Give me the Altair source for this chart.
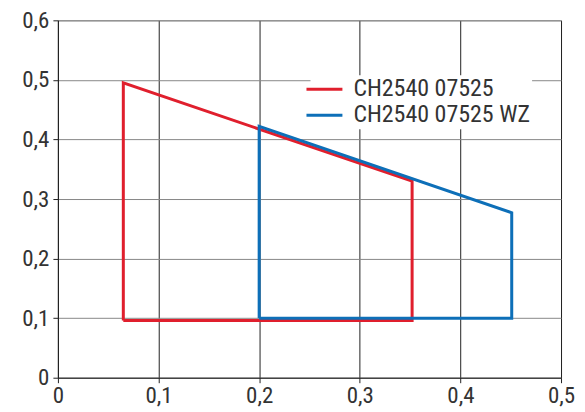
import altair as alt
import pandas as pd

series_names = ["CH2540 07525", "CH2540 07525 WZ"]
red_x = [0.065, 0.065, 0.352, 0.352, 0.065]
red_y = [0.096, 0.495, 0.330, 0.096, 0.096]
blue_x = [0.200, 0.200, 0.451, 0.451, 0.200]
blue_y = [0.100, 0.422, 0.277, 0.100, 0.100]
x_ticks = [0, 0.1, 0.2, 0.3, 0.4, 0.5]
y_ticks = [0, 0.1, 0.2, 0.3, 0.4, 0.5, 0.6]
colors = ["#e01f2d", "#0d6fb8"]

rows = []
for name, xs, ys in [(series_names[0], red_x, red_y), (series_names[1], blue_x, blue_y)]:
    for i, (xv, yv) in enumerate(zip(xs, ys)):
        rows.append({"series": name, "x": xv, "y": yv, "order": i})
df = pd.DataFrame(rows)

font = "Roboto Condensed, Liberation Sans Narrow, DejaVu Sans Condensed, Roboto, sans-serif"
lab = "datum.value == 0 ? '0' : replace(format(datum.value, '.1f'), '.', ',')"

chart = alt.Chart(df).mark_line(strokeWidth=3, strokeJoin="miter").encode(
    x=alt.X("x:Q", scale=alt.Scale(domain=[0, 0.5], nice=False),
            axis=alt.Axis(values=x_ticks, title=None, labelExpr=lab, grid=True,
                          gridColor="#222", gridOpacity=1, gridWidth=1,
                          domainColor="#222", tickColor="#222", tickSize=5,
                          labelFont=font, labelFontSize=23, labelColor="#333",
                          labelPadding=2, labelFlush=False)),
    y=alt.Y("y:Q", scale=alt.Scale(domain=[0, 0.6], nice=False),
            axis=alt.Axis(values=y_ticks, title=None, labelExpr=lab, grid=True,
                          gridColor="#888", gridOpacity=1, gridWidth=1,
                          domainColor="#222", tickColor="#222", tickSize=5,
                          labelFont=font, labelFontSize=23, labelColor="#333",
                          labelPadding=4)),
    color=alt.Color("series:N", scale=alt.Scale(domain=series_names, range=colors),
                    legend=alt.Legend(title=None, orient="none", legendX=253, legendY=55,
                                      fillColor="white", padding=2,
                                      symbolType="M-2,0H2", symbolSize=324,
                                      symbolStrokeWidth=3, labelFont=font,
                                      labelFontSize=24, labelColor="#333",
                                      labelLimit=400,
                                      rowPadding=2, labelOffset=17)),
    order="order:Q",
).properties(
    width=504, height=358,
    autosize=alt.AutoSizeParams(type="none"),
    padding={"left": 50, "top": 12, "right": 16, "bottom": 33},
).configure_view(stroke="#888", strokeWidth=1)

chart.save("out.html", embed_options={"renderer": "svg", "actions": False})
